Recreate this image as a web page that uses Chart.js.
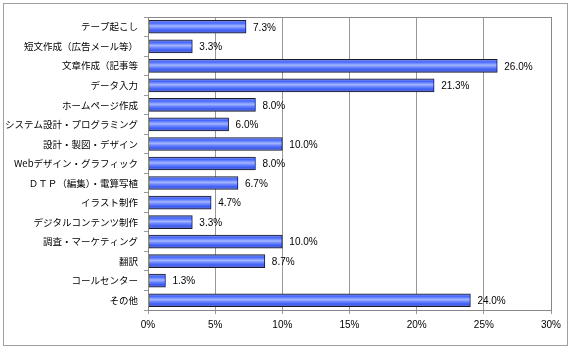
<!DOCTYPE html>
<html><head><meta charset="utf-8">
<script src="https://cdn.jsdelivr.net/npm/chart.js@4/dist/chart.umd.min.js"></script>
<style>html,body{margin:0;padding:0;background:#fff}#wrap{width:571px;height:352px;position:relative}</style>
</head><body><div id="wrap"><canvas id="c" width="571" height="352"></canvas></div>
<script>
const categories = ["テープ起こし","短文作成（広告メール等）","文章作成（記事等","データ入力","ホームページ作成","システム設計・プログラミング","設計・製図・デザイン","Webデザイン・グラフィック","ＤＴＰ（編集）・電算写植","イラスト制作","デジタルコンテンツ制作","調査・マーケティング","翻訳","コールセンター","その他"];
const values = [7.3,3.3,26.0,21.3,8.0,6.0,10.0,8.0,6.7,4.7,3.3,10.0,8.7,1.3,24.0];
const xTicks = [0,5,10,15,20,25,30];

const BAR_H = 13;
function barFill(ctx){
  const chart = ctx.chart;
  const ys = chart.scales && chart.scales.y;
  if (ctx.type !== 'data' || !ys || ys.top === undefined) return '#4466ff';
  const c = ys.getPixelForValue(ctx.dataIndex);
  const g = chart.ctx.createLinearGradient(0, c - BAR_H/2, 0, c + BAR_H/2);
  g.addColorStop(0, '#8899dd');
  g.addColorStop(0.2, '#4466ff');
  g.addColorStop(0.45, '#a4b6ff');
  g.addColorStop(0.6, '#6e88ff');
  g.addColorStop(0.8, '#3d5cf5');
  g.addColorStop(1, '#6677c4');
  return g;
}

const frame = {
  id: 'frame',
  beforeDraw(chart){
    const c = chart.ctx;
    c.save();
    c.fillStyle = '#fff';
    c.fillRect(0,0,chart.width,chart.height);
    c.strokeStyle = '#a0a0a0';
    c.lineWidth = 1;
    c.strokeRect(3.5, 3.5, 564, 342);
    c.restore();
  },
  afterDatasetsDraw(chart){
    const c = chart.ctx;
    const meta = chart.getDatasetMeta(0);
    c.save();
    c.font = '10px "Liberation Sans", Arial, sans-serif';
    c.fillStyle = '#000';
    c.textAlign = 'left';
    c.textBaseline = 'middle';
    meta.data.forEach((el, i) => {
      c.fillText(values[i].toFixed(1) + '%', el.x + 7, el.y + 1);
    });
    const a = chart.chartArea;
    c.strokeStyle = '#888';
    c.lineWidth = 1;
    c.strokeRect(Math.round(a.left)+0.5, Math.round(a.top)+0.5, Math.round(a.right-a.left), Math.round(a.bottom-a.top));
    c.restore();
  }
};

new Chart(document.getElementById('c'), {
  type: 'bar',
  data: {
    labels: categories,
    datasets: [{
      data: values,
      backgroundColor: barFill,
      borderColor: '#1a1a2a',
      borderWidth: 1,
      borderSkipped: false,
      barThickness: BAR_H
    }]
  },
  plugins: [frame],
  options: {
    indexAxis: 'y',
    responsive: false,
    animation: false,
    devicePixelRatio: 1,
    layout: { padding: { left: 0, right: 20, top: 17, bottom: 0 } },
    plugins: { legend: { display: false }, tooltip: { enabled: false } },
    scales: {
      x: {
        min: 0, max: 30,
        afterBuildTicks(axis){ axis.ticks = xTicks.map(v => ({value: v})); },
        afterFit(axis){ axis.height = 42; },
        ticks: {
          callback: v => v + '%',
          color: '#000',
          font: { family: '"Liberation Sans", Arial, sans-serif', size: 10 },
          padding: 5,
          maxRotation: 0
        },
        grid: { color: '#999', lineWidth: 1, drawTicks: true, tickLength: 4, tickColor: '#999' },
        border: { display: false }
      },
      y: {
        afterFit(axis){ axis.width = 148; },
        ticks: {
          color: '#000',
          font: { family: '"Noto Sans CJK JP", sans-serif', size: 9.5 },
          padding: 6,
          autoSkip: false
        },
        grid: { offset: true, drawOnChartArea: false, drawTicks: true, tickLength: 4, color: '#999' },
        border: { display: false }
      }
    }
  }
});
</script></body></html>
